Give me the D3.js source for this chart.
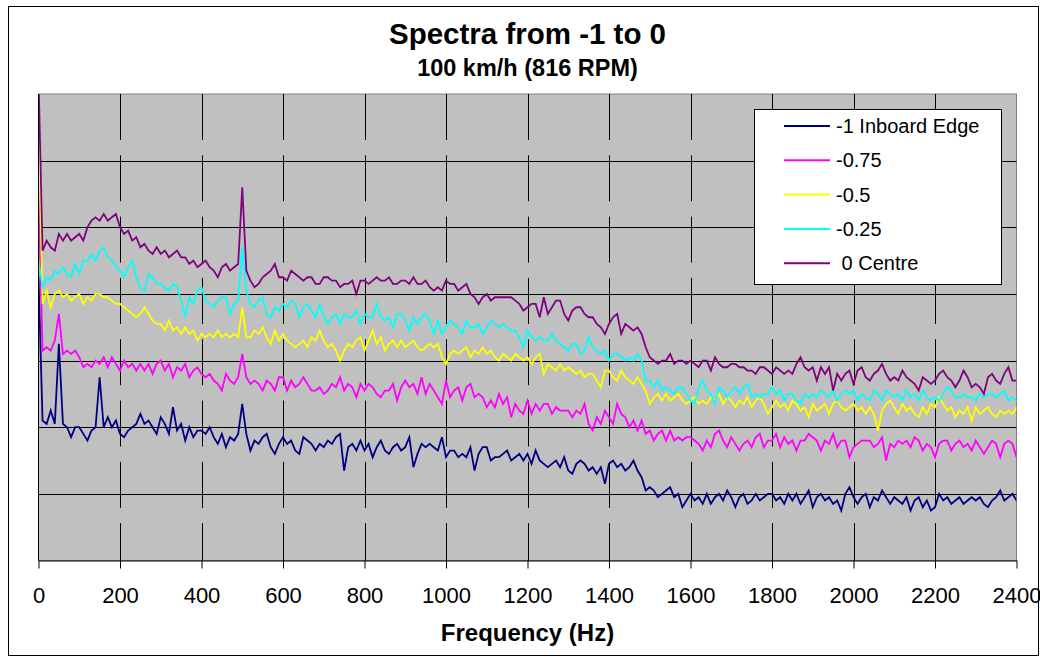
<!DOCTYPE html>
<html>
<head>
<meta charset="utf-8">
<script src="https://cdn.jsdelivr.net/npm/d3@7"></script>
<style>
  body { margin: 0; background: #fff; }
  svg { display: block; font-family: "Liberation Sans", Arial, sans-serif; }
</style>
</head>
<body>
<svg id="chart" width="1040" height="657"></svg>
<script>
// spectra sampled every 10 Hz, 0..2400 Hz, values in dB
const freqStep = 10;

const seriesNames = ["-1 Inboard Edge", "-0.75", "-0.5", "-0.25", " 0 Centre"];
const seriesColors = ["#000080", "#FF00FF", "#FFFF00", "#00FFFF", "#800080"];

const inboardEdge = [
  -55, -98, -99, -95, -99, -75, -99, -100, -103, -100,
  -100, -102, -104, -101, -100, -85, -100, -97, -100, -98,
  -102, -103, -101, -100, -99, -96, -99, -98, -100, -102,
  -97, -99, -102, -94, -101, -99, -104, -100, -103, -101,
  -101, -102, -100, -103, -105, -102, -106, -103, -104, -102,
  -93, -102, -107, -104, -105, -103, -102, -106, -108, -105,
  -103, -105, -104, -107, -108, -103, -104, -105, -107, -105,
  -106, -104, -105, -103, -102, -113, -106, -105, -107, -104,
  -107, -105, -109, -106, -104, -107, -108, -106, -105, -107,
  -106, -103, -112, -108, -105, -106, -105, -106, -107, -103,
  -109, -107, -107, -109, -108, -109, -106, -113, -108, -106,
  -106, -110, -109, -109, -108, -107, -110, -109, -108, -110,
  -108, -111, -107, -110, -111, -112, -111, -110, -112, -109,
  -113, -114, -111, -110, -111, -113, -112, -114, -112, -117,
  -111, -110, -112, -111, -113, -112, -110, -113, -115, -119,
  -118, -119, -121, -120, -119, -118, -121, -120, -124, -122,
  -120, -122, -121, -123, -120, -123, -121, -120, -122, -119,
  -121, -124, -121, -120, -123, -122, -120, -122, -121, -120,
  -120, -122, -121, -123, -120, -122, -120, -123, -121, -119,
  -124, -121, -120, -122, -121, -123, -122, -125, -120, -118,
  -121, -123, -121, -120, -124, -121, -122, -119, -121, -123,
  -121, -122, -123, -121, -125, -122, -121, -124, -122, -125,
  -124, -120, -122, -121, -123, -122, -121, -123, -122, -121,
  -122, -121, -123, -124, -122, -121, -119, -122, -121, -120,
  -122
];

const minus075 = [
  -29, -77, -76, -77, -74, -66, -78, -77, -78, -77,
  -79, -82, -81, -82, -80, -81, -79, -82, -79, -81,
  -83, -80, -82, -81, -83, -81, -83, -81, -84, -81,
  -80, -83, -81, -85, -82, -83, -81, -85, -83, -82,
  -84, -85, -84, -86, -87, -89, -84, -86, -87, -85,
  -78, -85, -87, -86, -87, -89, -86, -87, -89, -85,
  -85, -89, -86, -88, -87, -85, -87, -89, -89, -88,
  -90, -89, -87, -88, -85, -89, -87, -88, -91, -87,
  -89, -87, -88, -90, -91, -89, -89, -87, -92, -88,
  -86, -88, -87, -90, -85, -90, -87, -89, -91, -93,
  -86, -91, -89, -88, -92, -88, -87, -91, -90, -91,
  -94, -92, -94, -90, -93, -91, -97, -93, -95, -96,
  -92, -96, -93, -95, -93, -93, -96, -94, -95, -95,
  -95, -97, -95, -96, -93, -99, -101, -97, -99, -95,
  -97, -99, -93, -96, -97, -100, -98, -101, -98, -102,
  -101, -104, -102, -101, -104, -101, -104, -103, -104, -103,
  -103, -104, -105, -107, -104, -106, -102, -101, -104, -106,
  -103, -105, -107, -105, -104, -106, -103, -102, -106, -104,
  -104, -102, -106, -103, -105, -104, -107, -104, -104, -102,
  -103, -104, -107, -104, -105, -102, -106, -104, -104, -109,
  -106, -105, -104, -104, -104, -106, -105, -103, -110, -105,
  -106, -104, -105, -104, -106, -103, -104, -107, -105, -106,
  -109, -105, -104, -104, -107, -105, -104, -106, -105, -107,
  -104, -106, -108, -106, -104, -105, -109, -105, -104, -105,
  -109
];

const minus05 = [
  -8, -63, -59, -64, -60, -59, -61, -60, -62, -61,
  -60, -63, -61, -62, -60, -60, -61, -61, -62, -63,
  -63, -64, -65, -66, -67, -66, -64, -66, -68, -69,
  -69, -71, -68, -71, -70, -72, -70, -72, -71, -74,
  -72, -73, -72, -73, -71, -73, -72, -73, -72, -73,
  -64, -73, -73, -71, -72, -70, -73, -75, -71, -74,
  -72, -74, -75, -76, -75, -74, -76, -73, -74, -71,
  -74, -76, -75, -77, -80, -77, -75, -76, -74, -73,
  -77, -74, -71, -75, -73, -77, -75, -74, -76, -74,
  -76, -75, -74, -76, -77, -76, -75, -76, -75, -79,
  -81, -78, -77, -78, -77, -76, -79, -77, -78, -76,
  -78, -77, -79, -80, -78, -79, -80, -78, -79, -80,
  -79, -81, -79, -78, -84, -81, -82, -83, -81, -83,
  -82, -83, -84, -83, -85, -84, -84, -86, -88, -83,
  -83, -85, -86, -83, -85, -86, -87, -85, -87, -89,
  -93, -91, -90, -92, -90, -92, -91, -90, -92, -93,
  -92, -91, -93, -92, -93, -91, -92, -90, -93, -91,
  -92, -94, -92, -93, -91, -94, -92, -91, -93, -96,
  -94, -92, -94, -93, -95, -92, -93, -95, -94, -97,
  -93, -95, -94, -93, -96, -93, -92, -94, -95, -94,
  -93, -95, -94, -96, -94, -96, -101, -95, -93, -92,
  -94, -96, -93, -95, -94, -96, -97, -94, -96, -93,
  -94, -91, -93, -95, -94, -97, -95, -96, -94, -98,
  -94, -96, -95, -94, -96, -97, -95, -96, -95, -96,
  -94
];

const minus025 = [
  -50, -58, -55, -56, -53, -54, -52, -54, -55, -51,
  -54, -50, -50, -48, -50, -47, -46, -49, -50, -52,
  -53, -55, -52, -50, -55, -58, -59, -54, -55, -57,
  -57, -58, -59, -57, -58, -62, -67, -61, -63, -59,
  -58, -62, -63, -64, -62, -61, -61, -66, -63, -62,
  -46, -59, -63, -64, -62, -61, -66, -67, -64, -65,
  -63, -64, -62, -63, -67, -64, -63, -65, -67, -63,
  -67, -69, -67, -66, -69, -66, -67, -67, -65, -69,
  -66, -67, -67, -63, -67, -68, -67, -70, -66, -66,
  -68, -71, -67, -69, -67, -66, -68, -72, -68, -72,
  -70, -68, -69, -70, -72, -68, -70, -70, -69, -72,
  -70, -68, -69, -70, -69, -70, -71, -71, -73, -76,
  -71, -73, -74, -73, -74, -74, -72, -74, -75, -76,
  -77, -75, -75, -78, -77, -73, -76, -77, -78, -77,
  -80, -78, -78, -79, -80, -79, -80, -78, -80, -86,
  -86, -88, -86, -89, -88, -89, -90, -88, -88, -90,
  -92, -93, -88, -86, -89, -90, -93, -88, -89, -91,
  -89, -88, -90, -88, -87, -91, -90, -91, -90, -90,
  -88, -90, -89, -92, -90, -90, -92, -93, -90, -91,
  -90, -91, -89, -90, -91, -89, -92, -90, -89, -90,
  -89, -92, -90, -91, -92, -89, -90, -92, -89, -90,
  -91, -90, -92, -89, -91, -90, -92, -89, -91, -92,
  -91, -92, -90, -88, -89, -91, -91, -90, -91, -91,
  -92, -90, -91, -90, -90, -91, -90, -89, -92, -91,
  -92
];

const centre = [
  5, -47, -44, -46, -47, -42, -44, -42, -44, -43,
  -42, -44, -40, -38, -37, -38, -36, -38, -37, -36,
  -40, -42, -41, -44, -43, -46, -45, -47, -48, -46,
  -48, -47, -49, -48, -47, -49, -49, -51, -50, -52,
  -51, -50, -52, -53, -55, -52, -51, -53, -52, -51,
  -28, -53, -56, -58, -57, -55, -54, -53, -51, -55,
  -55, -56, -53, -54, -55, -56, -55, -55, -57, -57,
  -55, -55, -56, -56, -58, -57, -57, -56, -60, -56,
  -56, -57, -56, -55, -56, -56, -55, -57, -57, -56,
  -56, -57, -55, -57, -57, -56, -58, -59, -58, -59,
  -56, -57, -57, -59, -58, -57, -60, -61, -63, -61,
  -60, -62, -61, -61, -61, -61, -61, -62, -63, -65,
  -64, -63, -63, -67, -61, -66, -64, -62, -62, -66,
  -68, -65, -64, -64, -66, -67, -67, -69, -70, -72,
  -69, -67, -66, -72, -69, -70, -71, -70, -72, -76,
  -79, -80, -81, -80, -80, -78, -81, -80, -80, -81,
  -80, -81, -82, -80, -80, -83, -79, -81, -82, -82,
  -81, -81, -82, -82, -83, -83, -84, -82, -82, -83,
  -84, -82, -83, -84, -83, -84, -81, -79, -82, -83,
  -82, -86, -82, -84, -82, -89, -84, -86, -84, -83,
  -87, -83, -82, -85, -86, -84, -83, -81, -84, -86,
  -85, -86, -83, -85, -86, -87, -89, -85, -86, -87,
  -86, -84, -83, -85, -86, -88, -86, -83, -85, -88,
  -87, -88, -90, -85, -84, -86, -87, -84, -82, -86,
  -86
];

const xTicks = [0, 200, 400, 600, 800, 1000, 1200, 1400, 1600, 1800, 2000, 2200, 2400];
const yGrid = [-120, -100, -80, -60, -40, -20];

const seriesValues = [inboardEdge, minus075, minus05, minus025, centre];

const svg = d3.select("#chart");

// chart frame
svg.append("rect")
  .attr("x", 8.5).attr("y", 6.5)
  .attr("width", 1030).attr("height", 649)
  .attr("fill", "#fff").attr("stroke", "#000").attr("stroke-width", 1);

const x = d3.scaleLinear().domain([0, 2400]).range([38.5, 1016.5]);
const y = d3.scaleLinear().domain([-140, 0]).range([560.5, 94]);

// plot area
svg.append("rect")
  .attr("x", x(0)).attr("y", y(0))
  .attr("width", x(2400) - x(0)).attr("height", y(-140) - y(0))
  .attr("fill", "#C0C0C0").attr("stroke", "#808080").attr("stroke-width", 1);

svg.append("clipPath").attr("id", "plotClip")
  .append("rect")
  .attr("x", x(0)).attr("y", y(0))
  .attr("width", x(2400) - x(0)).attr("height", y(-140) - y(0));

// horizontal gridlines (solid)
svg.append("g").selectAll("line")
  .data(yGrid)
  .enter().append("line")
  .attr("x1", x(0)).attr("x2", x(2400))
  .attr("y1", d => Math.round(y(d)) + 0.5).attr("y2", d => Math.round(y(d)) + 0.5)
  .attr("stroke", "#000").attr("stroke-width", 1);

// vertical gridlines (dashed)
svg.append("g").selectAll("line")
  .data(xTicks.filter(d => d > 0 && d < 2400))
  .enter().append("line")
  .attr("x1", d => Math.round(x(d)) + 0.5).attr("x2", d => Math.round(x(d)) + 0.5)
  .attr("y1", y(0)).attr("y2", y(-140))
  .attr("stroke", "#000").attr("stroke-width", 1)
  .attr("stroke-dasharray", "46,15.3");

// the series, navy first so purple ends up on top
const line = d3.line()
  .x((d, i) => x(i * freqStep))
  .y(d => y(d));

svg.append("g")
  .attr("clip-path", "url(#plotClip)")
  .selectAll("path")
  .data(seriesValues)
  .enter().append("path")
  .attr("d", line)
  .attr("fill", "none")
  .attr("stroke", (d, i) => seriesColors[i])
  .attr("stroke-width", 1.8)
  .attr("stroke-linejoin", "miter");

// y axis line
svg.append("line")
  .attr("x1", 38.5).attr("x2", 38.5)
  .attr("y1", y(0)).attr("y2", y(-140))
  .attr("stroke", "#000");

// x axis
const xAxis = svg.append("g")
  .attr("transform", `translate(0,${y(-140)})`)
  .call(d3.axisBottom(x)
    .tickValues(xTicks)
    .tickFormat(d3.format("d"))
    .tickSize(8).tickPadding(19).tickSizeOuter(0));
xAxis.select(".domain").attr("stroke", "#000");
xAxis.selectAll(".tick line").attr("stroke", "#000");
xAxis.selectAll(".tick text")
  .attr("font-family", "\"Liberation Sans\", Arial, sans-serif")
  .attr("font-size", 22)
  .attr("fill", "#000");

// titles
svg.append("text")
  .attr("x", 527.5).attr("y", 44)
  .attr("text-anchor", "middle")
  .attr("font-size", 29.5).attr("font-weight", "bold")
  .text("Spectra from -1 to 0");
svg.append("text")
  .attr("x", 527.5).attr("y", 76)
  .attr("text-anchor", "middle")
  .attr("font-size", 23.5).attr("font-weight", "bold")
  .text("100 km/h (816 RPM)");
svg.append("text")
  .attr("x", 527.5).attr("y", 640.5)
  .attr("text-anchor", "middle")
  .attr("font-size", 24).attr("font-weight", "bold")
  .text("Frequency (Hz)");

// legend
const legend = svg.append("g");
legend.append("rect")
  .attr("x", 754.5).attr("y", 109.5)
  .attr("width", 247).attr("height", 175)
  .attr("fill", "#fff").attr("stroke", "#000");

const entry = legend.selectAll("g.entry")
  .data(seriesNames)
  .enter().append("g")
  .attr("class", "entry")
  .attr("transform", (d, i) => `translate(0,${126 + i * 34.3})`);
entry.append("line")
  .attr("x1", 784).attr("x2", 830)
  .attr("stroke", (d, i) => seriesColors[i])
  .attr("stroke-width", 2);
entry.append("text")
  .attr("x", 836).attr("y", 7)
  .attr("font-size", 20)
  .style("white-space", "pre")
  .text(d => d);
</script>
</body>
</html>
